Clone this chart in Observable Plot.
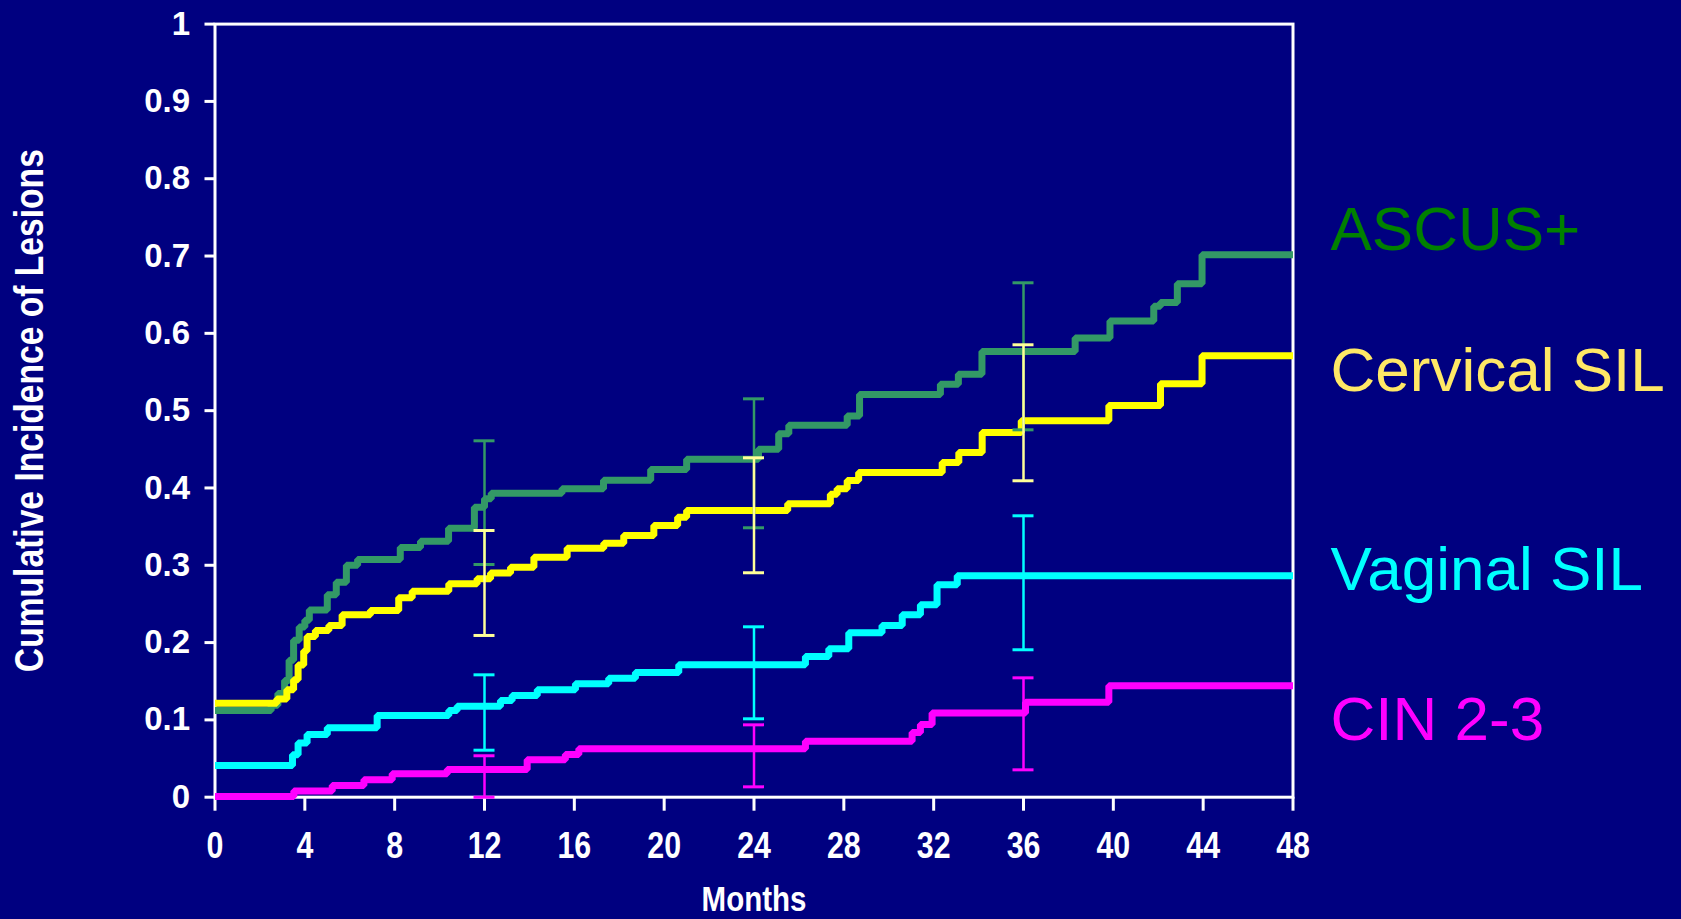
<!DOCTYPE html>
<html>
<head>
<meta charset="utf-8">
<script src="https://cdn.jsdelivr.net/npm/d3@7"></script>
<script src="https://cdn.jsdelivr.net/npm/@observablehq/plot@0.6"></script>
<style>
  html, body { margin: 0; padding: 0; background: #000080; overflow: hidden; }
</style>
</head>
<body>
<script>
// Cumulative incidence (Kaplan–Meier style step curves), months 0–48

const xTicks = [0, 4, 8, 12, 16, 20, 24, 28, 32, 36, 40, 44, 48];
const yTicks = [0, 0.1, 0.2, 0.3, 0.4, 0.5, 0.6, 0.7, 0.8, 0.9, 1];

// ASCUS+
const ascusMonths = [0, 2.5, 2.8, 3.1, 3.3, 3.5, 3.75, 4.0, 4.2, 5.0, 5.4, 5.85, 6.35, 8.25, 9.15, 10.4, 11.55, 12.0, 12.3, 15.45, 17.3, 19.4, 21.0, 24.2, 25.1, 25.55, 28.15, 28.7, 32.3, 33.1, 34.15, 38.3, 39.85, 41.8, 42.1, 42.85, 43.95, 48];
const ascusValues = [0.112, 0.119, 0.134, 0.151, 0.177, 0.203, 0.22, 0.229, 0.242, 0.262, 0.278, 0.30, 0.3075, 0.323, 0.331, 0.348, 0.375, 0.386, 0.393, 0.399, 0.41, 0.424, 0.437, 0.45, 0.47, 0.481, 0.493, 0.521, 0.534, 0.547, 0.5765, 0.594, 0.616, 0.635, 0.64, 0.664, 0.7015, 0.7015];

// Cervical SIL
const cervMonths = [0, 2.75, 3.2, 3.5, 3.7, 3.95, 4.1, 4.47, 5.07, 5.66, 6.92, 8.18, 8.78, 10.41, 11.67, 12.27, 13.16, 14.2, 15.68, 17.31, 18.2, 19.54, 20.6, 21.0, 25.5, 27.4, 27.7, 28.15, 28.66, 32.38, 33.12, 34.16, 35.9, 39.8, 42.1, 43.95, 48];
const cervValues = [0.1216, 0.127, 0.139, 0.152, 0.171, 0.189, 0.208, 0.2156, 0.222, 0.236, 0.2415, 0.258, 0.2665, 0.276, 0.2825, 0.29, 0.2975, 0.3104, 0.322, 0.3286, 0.3385, 0.3514, 0.362, 0.3708, 0.3795, 0.392, 0.399, 0.4096, 0.42, 0.433, 0.446, 0.4717, 0.487, 0.5067, 0.5347, 0.571, 0.571];

// Vaginal SIL
const vagMonths = [0, 3.45, 3.7, 4.1, 5.0, 7.22, 10.41, 10.78, 12.71, 13.23, 14.35, 16.05, 17.53, 18.72, 20.65, 26.29, 27.33, 28.22, 29.7, 30.6, 31.41, 32.15, 33.05, 48];
const vagValues = [0.041, 0.055, 0.07, 0.081, 0.0897, 0.1057, 0.112, 0.1177, 0.125, 0.1315, 0.139, 0.1466, 0.154, 0.1613, 0.1712, 0.182, 0.192, 0.2126, 0.222, 0.236, 0.249, 0.2747, 0.2864, 0.2864];

// CIN 2-3
const cinMonths = [0, 3.51, 5.22, 6.63, 7.89, 10.34, 13.9, 15.6, 16.2, 26.29, 31.04, 31.41, 31.93, 36.09, 39.8, 48];
const cinValues = [0.001, 0.008, 0.0151, 0.0225, 0.0302, 0.0358, 0.0483, 0.0552, 0.0626, 0.0725, 0.0837, 0.094, 0.109, 0.1229, 0.144, 0.144];

// Confidence intervals at 12, 24 and 36 months
const ciMonths = [12, 24, 36];
const ascusLo = [0.301, 0.3485, 0.4752];
const ascusHi = [0.461, 0.5153, 0.6654];
const cervLo = [0.2092, 0.2903, 0.4093];
const cervHi = [0.345, 0.439, 0.5852];
const vagLo = [0.0608, 0.1014, 0.1907];
const vagHi = [0.1583, 0.2204, 0.364];
const cinLo = [0, 0.0134, 0.0354];
const cinHi = [0.0536, 0.0936, 0.1544];

const seriesNames = ["ASCUS+", "Cervical SIL", "Vaginal SIL", "CIN 2-3"];
const yTitle = "Cumulative Incidence of Lesions";
const xTitle = "Months";

// Styling
const lineColors = ["#339966", "#FFFF00", "#00FFFF", "#FF00FF"];
const barColors = ["#339966", "#FFFF99", "#00FFFF", "#FF00FF"];
const labelColors = ["#008000", "#FFE866", "#00FFFF", "#FF00FF"];
// vertical placement of the right-hand labels, in chart units (baseline)
const labelBaselines = [0.7077, 0.5248, 0.2674, 0.0737];

const regular = "'Liberation Sans', Arial, sans-serif";
const condense = 0.82; // horizontal squeeze for the narrow bold texts

const series = [
  {months: ascusMonths, values: ascusValues, lo: ascusLo, hi: ascusHi},
  {months: cervMonths, values: cervValues, lo: cervLo, hi: cervHi},
  {months: vagMonths, values: vagValues, lo: vagLo, hi: vagHi},
  {months: cinMonths, values: cinValues, lo: cinLo, hi: cinHi}
];

const lineMarks = series.map((s, k) =>
  Plot.line(s.months.map((m, i) => ({month: m, value: s.values[i]})), {
    x: "month", y: "value", curve: "step-after",
    stroke: lineColors[k], strokeWidth: 7, strokeLinejoin: "miter", strokeLinecap: "butt"
  })
);

const ciMarks = series.flatMap((s, k) => {
  const rows = ciMonths.map((m, i) => ({month: m, lo: s.lo[i], hi: s.hi[i]}));
  return [
    Plot.ruleX(rows, {x: "month", y1: "lo", y2: "hi", stroke: barColors[k], strokeWidth: 2.5}),
    Plot.ruleY(rows, {y: "hi", x1: "month", x2: "month", insetLeft: -10.5, insetRight: -10.5, stroke: barColors[k], strokeWidth: 3}),
    Plot.ruleY(rows, {y: "lo", x1: "month", x2: "month", insetLeft: -10.5, insetRight: -10.5, stroke: barColors[k], strokeWidth: 3})
  ];
});

const labelMarks = seriesNames.map((name, k) =>
  Plot.text([name], {
    x: () => 48, y: () => labelBaselines[k], text: d => d,
    dx: 37.5, textAnchor: "start", lineAnchor: "bottom",
    fill: labelColors[k], fontSize: 62, fontFamily: regular
  })
);

const chart = Plot.plot({
  width: 1681,
  height: 919,
  marginLeft: 214.5,
  marginRight: 388.5,
  marginTop: 23.6,
  marginBottom: 122.3,
  style: {background: "#000080", color: "white", fontFamily: regular, overflow: "visible"},
  x: {domain: [0, 48]},
  y: {domain: [0, 1]},
  marks: [
    Plot.axisY({
      ticks: yTicks, tickSize: 10, tickPadding: 15, strokeWidth: 3,
      tickFormat: d => (d === 0 || d === 1) ? String(d) : d.toFixed(1),
      fontSize: 33, fontWeight: "bold", fontFamily: regular, label: null
    }),
    Plot.axisX({
      ticks: xTicks, tickSize: 14, tickPadding: 21, strokeWidth: 3,
      tickFormat: d => String(d),
      fontSize: 37, fontWeight: "bold", fontFamily: regular, label: null
    }),
    Plot.frame({stroke: "white", strokeWidth: 3}),
    ...lineMarks,
    ...ciMarks,
    ...labelMarks,
    Plot.text([yTitle], {
      text: d => d, frameAnchor: "left", rotate: -90, dx: -201.5,
      textAnchor: "middle", lineAnchor: "top",
      fill: "white", fontSize: 41, fontWeight: "bold", fontFamily: regular
    }),
    Plot.text([xTitle], {
      text: d => d, frameAnchor: "bottom", dy: 88,
      textAnchor: "middle", lineAnchor: "top",
      fill: "white", fontSize: 36, fontWeight: "bold", fontFamily: regular
    })
  ]
});

// Narrow bold lettering for the month ticks and the two axis titles
const root = d3.select(chart);
root.selectAll('g[aria-label="x-axis tick label"] text')
  .attr("transform", function () {
    return (this.getAttribute("transform") || "") + ` scale(${condense},1)`;
  });
root.selectAll("text")
  .filter(function () { return this.textContent === yTitle || this.textContent === xTitle; })
  .attr("transform", function () {
    return (this.getAttribute("transform") || "") + ` scale(${condense},1)`;
  });

document.body.appendChild(chart);
</script>
</body>
</html>
